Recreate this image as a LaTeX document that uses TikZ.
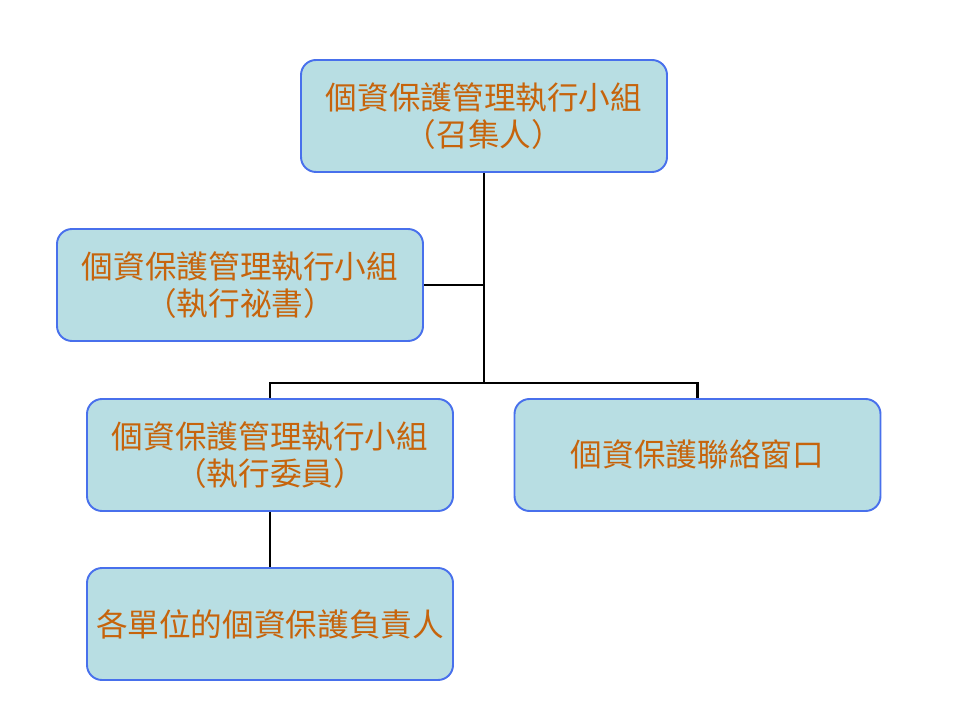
\documentclass[tikz,border=0pt]{standalone}
\usepackage{fontspec}
\newfontfamily\cjk{Noto Sans CJK TC}
\definecolor{boxfill}{RGB}{184,222,227}
\definecolor{boxline}{RGB}{72,112,236}
\definecolor{boxtext}{RGB}{198,100,12}
\begin{document}
\begin{tikzpicture}
    \tikzstyle{unit}=[rectangle, rounded corners=0.3cm, draw=boxline, line width=1.1pt, fill=boxfill,
        minimum width=7.32cm, minimum height=2.24cm, align=center, text=boxtext,
        font=\cjk\fontsize{18}{21}\selectfont];
    \tikzstyle{link}=[line width=1.6pt, black];

    \useasboundingbox (0,0) rectangle (19.2,14.4);

    \node (lead) at (9.68, 12.08) [unit] {個資保護管理執行小組\\（召集人）};
    \node (secr) at (4.80, 8.70) [unit] {個資保護管理執行小組\\（執行祕書）};

    \node (memb) at (5.40, 5.30) [unit] {個資保護管理執行小組\\（執行委員）};
    \node (cont) at (13.95, 5.30) [unit] {個資保護聯絡窗口};

    \node (resp) at (5.40, 1.92) [unit] {各單位的個資保護負責人};

    \coordinate (split) at (9.68, 6.74);

    \draw[link] (lead.south) -- (split);
    \draw[link] (secr.east) -- (secr.east -| split);

    \draw[link] (memb.north) |- (split) -| (cont.north);
    \draw[link] (memb.south) -- (resp.north);

\end{tikzpicture}
\end{document}
